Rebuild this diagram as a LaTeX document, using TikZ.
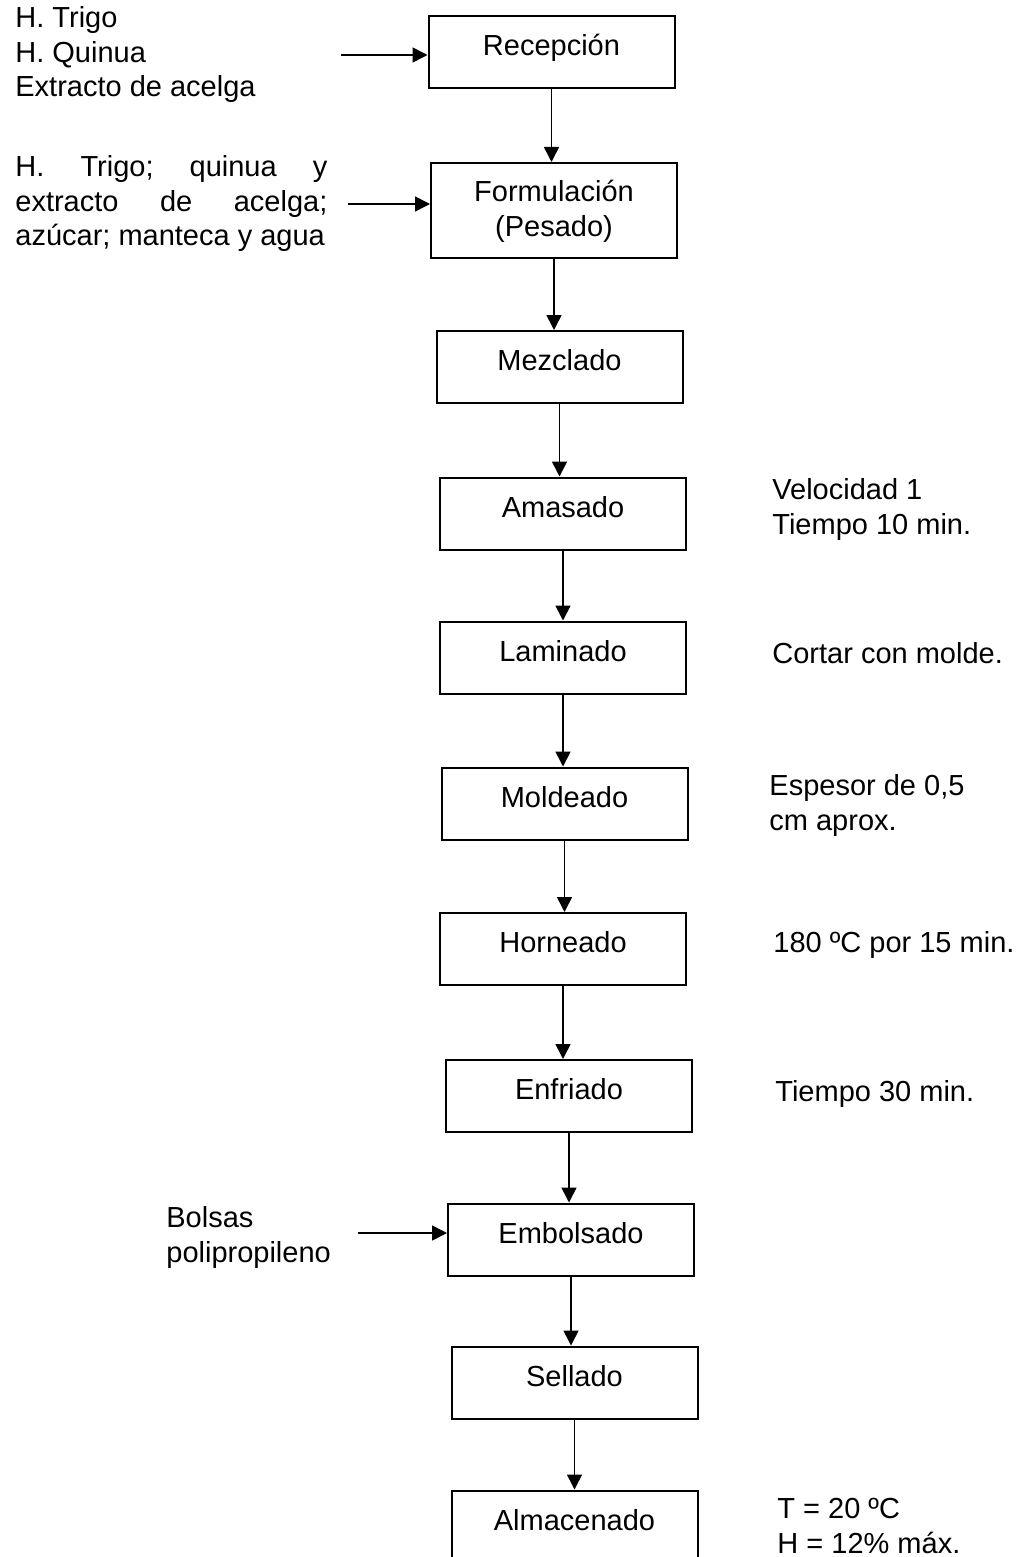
\documentclass[tikz,border=0pt]{standalone}
\usepackage{fontspec}
\setmainfont{Liberation Sans}
\usetikzlibrary{arrows.meta}

\begin{document}
\begin{tikzpicture}[x=0.5pt, y=-0.5pt,
    every node/.style={font=\fontsize{14.5}{17.25}\selectfont},
    box/.style={rectangle, draw, line width=1pt, minimum width=123pt, minimum height=36pt},
    proc/.style={box, text height=11pt, text depth=7.5pt},
    note/.style={anchor=base west, align=left, inner sep=0pt},
    arrow/.style={-{Triangle[length=7.5pt, width=7.5pt]}, line width=0.8pt}]

  \useasboundingbox (0,0) rectangle (1017,1557);
  \clip (0,0) rectangle (1017,1557);

  % etapas del proceso
  \node[proc] (recep) at (551.5,  52)   {Recepción};
  \node[box, minimum height=47.5pt, align=center, text height=25.5pt, text depth=0pt] (form) at (554, 210.5) {Formulación\\(Pesado)};
  \node[proc] (mezc)  at (559.5, 367)   {Mezclado};
  \node[proc] (amas)  at (563,   513.5) {Amasado};
  \node[proc] (lamin) at (563,   657.5) {Laminado};
  \node[proc] (mold)  at (564.5, 803.5) {Moldeado};
  \node[proc] (horn)  at (563,   949)   {Horneado};
  \node[proc] (enfr)  at (569,  1096)   {Enfriado};
  \node[proc] (embol) at (571,  1239.5) {Embolsado};
  \node[proc] (sell)  at (574.5,1382.5) {Sellado};
  \node[proc] (alm)   at (574.5,1526.5) {Almacenado};

  % insumos (base = ultima linea)
  \node[note] (insum) at (15, 97) {H. Trigo\\H. Quinua\\Extracto de acelga};
  \node[note, text width=156pt, align=justify] (formin) at (15, 177)
    {\frenchspacing H. Trigo; quinua y\linebreak extracto de acelga;\linebreak azúcar; manteca y agua};
  \node[note] (bolsas) at (166, 1262) {Bolsas\\polipropileno};

  % condiciones
  \node[note] (vel)  at (772,  534) {Velocidad 1\\Tiempo 10 min.};
  \node[note] (cort) at (772,  663) {Cortar con molde.};
  \node[note] (esp)  at (769,  830) {Espesor de 0,5\\cm aprox.};
  \node[note] (temp) at (773,  952) {180 ºC por 15 min.};
  \node[note] (tenf) at (775, 1101) {Tiempo 30 min.};
  \node[note] (cond) at (777, 1553) {T = 20 ºC\\H = 12\% máx.};

  \coordinate (srcA) at (341, 55);
  \coordinate (srcB) at (348, 204);
  \coordinate (srcC) at (358, 1233);

  \draw[arrow] (srcA) -- (srcA -| recep.west);
  \draw[arrow] (srcB) -- (srcB -| form.west);
  \draw[arrow] (srcC) -- (srcC -| embol.west);

  \draw[arrow] (recep.south) -- (recep.south |- form.north);
  \draw[arrow] (form.south)  -- (form.south  |- mezc.north);
  \draw[arrow] (mezc.south)  -- (mezc.south  |- amas.north);
  \draw[arrow] (amas.south)  -- (amas.south  |- lamin.north);
  \draw[arrow] (lamin.south) -- (lamin.south |- mold.north);
  \draw[arrow] (mold.south)  -- (mold.south  |- horn.north);
  \draw[arrow] (horn.south)  -- (horn.south  |- enfr.north);
  \draw[arrow] (enfr.south)  -- (enfr.south  |- embol.north);
  \draw[arrow] (embol.south) -- (embol.south |- sell.north);
  \draw[arrow] (sell.south)  -- (sell.south  |- alm.north);
\end{tikzpicture}
\end{document}
